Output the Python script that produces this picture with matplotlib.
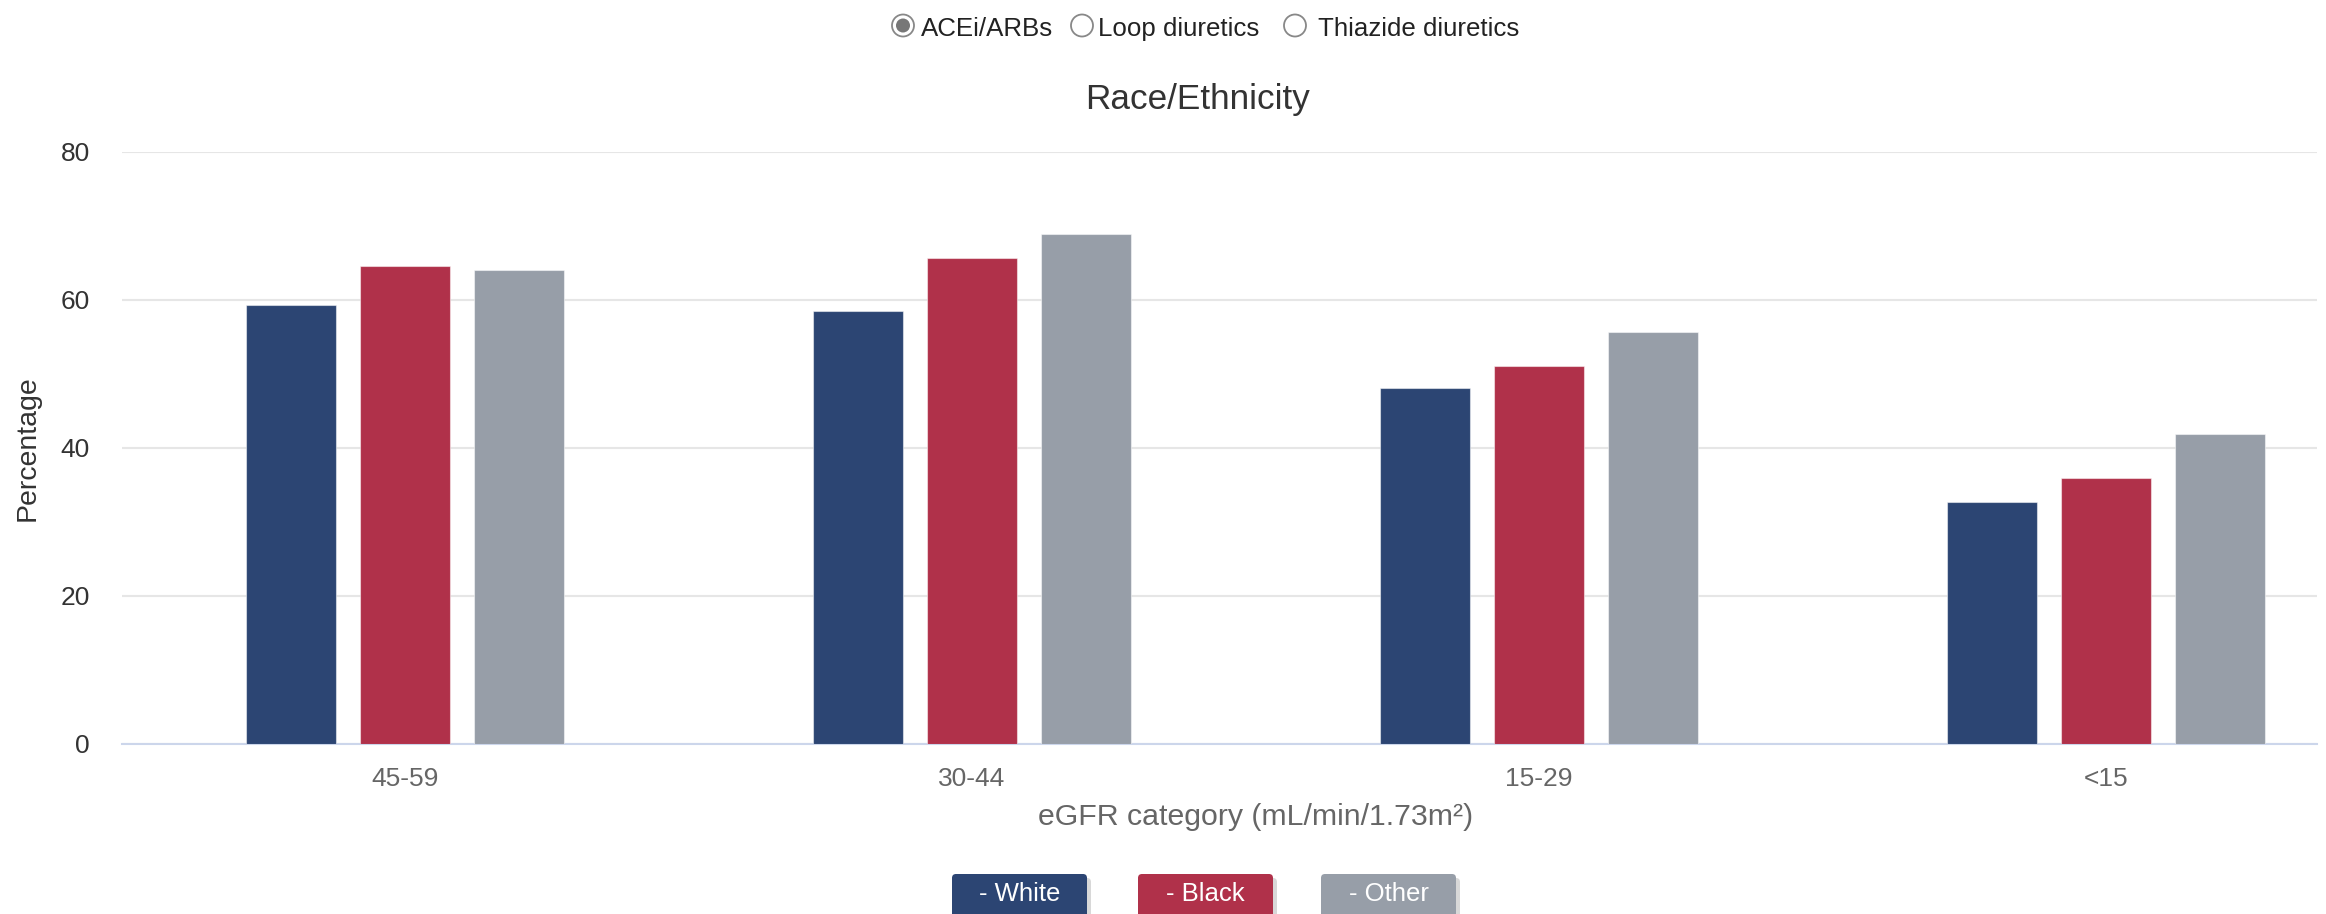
import matplotlib
matplotlib.use("Agg")
import matplotlib.pyplot as plt
from matplotlib.patches import Circle, FancyBboxPatch
from matplotlib import font_manager
import numpy as np

# ---- data ----
categories = ["45-59", "30-44", "15-29", "<15"]
series_names = ["White", "Black", "Other"]
white = [59.3, 58.5, 48.0, 32.6]
black = [64.5, 65.6, 51.0, 35.9]
other = [64.0, 68.9, 55.6, 41.8]
y_ticks = [0, 20, 40, 60, 80]
title = "Race/Ethnicity"
x_label = "eGFR category (mL/min/1.73m²)"
y_label = "Percentage"
radio_labels = ["ACEi/ARBs", "Loop diuretics", "Thiazide diuretics"]

colors = ["#2c4573", "#b0314a", "#979ea8"]

W, H = 2326, 914
installed = {f.name for f in font_manager.fontManager.ttflist}
base = "Liberation Sans" if "Liberation Sans" in installed else "DejaVu Sans"
narrow = "Liberation Sans Narrow" if "Liberation Sans Narrow" in installed else base
plt.rcParams["font.family"] = [base, "DejaVu Sans"]

fig = plt.figure(figsize=(W / 100, H / 100), dpi=100)
left, right, top, bottom = 122, 2317, 151.6, 743.7
ax = fig.add_axes([left / W, 1 - bottom / H, (right - left) / W, (bottom - top) / H])

x = np.arange(len(categories))
bw = 0.1588
step = 0.2011
for i, (vals, c) in enumerate(zip([white, black, other], colors)):
    ax.bar(x + (i - 1) * step, vals, width=bw, color=c, edgecolor=(1, 1, 1, 0.5),
           linewidth=0.8, zorder=3)

ax.set_xlim(-0.4992, 3.3727)
ax.set_ylim(0, 80)
ax.set_yticks(y_ticks)
ax.set_xticks(x)
ax.set_xticklabels(categories)
ax.yaxis.grid(True, color="#e6e6e6", linewidth=1.5, zorder=0)
ax.set_axisbelow(True)
for s in ["top", "right", "left"]:
    ax.spines[s].set_visible(False)
ax.spines["bottom"].set_color("#ccd6eb")
ax.spines["bottom"].set_linewidth(1.5)
ax.tick_params(axis="both", length=0)
ax.tick_params(axis="y", labelsize=19, labelcolor="#333333", pad=23)
ax.tick_params(axis="x", labelsize=19, labelcolor="#666666", pad=17)

# overlay in pixel coords
ov = fig.add_axes([0, 0, 1, 1], zorder=10)
ov.set_xlim(0, W)
ov.set_ylim(H, 0)
ov.axis("off")

ov.text(1197.5, 109, title, ha="center", va="baseline", fontsize=25.3, color="#333333")
ov.text(1255.5, 817, x_label, ha="center", va="center", fontsize=21.8, color="#666666")
ov.text(28, 448, y_label, ha="center", va="center", rotation=90, fontsize=20.5, color="#333333")

# radio buttons
circ_x = [903, 1082, 1295]
text_x = [920.7, 1098.5, 1318]
for j, (cx, tx, lab) in enumerate(zip(circ_x, text_x, radio_labels)):
    ov.add_patch(Circle((cx, 25.5), 11, facecolor="white", edgecolor="#888888", lw=1.3))
    if j == 0:
        ov.add_patch(Circle((cx, 25.5), 7, facecolor="#777777", edgecolor="none"))
    ov.text(tx, 36, lab, ha="left", va="baseline", fontsize=18.6, color="#222222",
            family=[base, "DejaVu Sans"])

# legend buttons
btn_x = [952, 1138, 1321]
btn_w = 135
for bx, name, c in zip(btn_x, series_names, colors):
    ov.add_patch(FancyBboxPatch((bx + 4, 878), btn_w, 44, boxstyle="round,pad=0,rounding_size=4",
                                facecolor="#c8c8c8", edgecolor="none", alpha=0.7))
    ov.add_patch(FancyBboxPatch((bx, 874), btn_w, 44, boxstyle="round,pad=0,rounding_size=4",
                                facecolor=c, edgecolor="none"))
    ov.text(bx + btn_w / 2, 894, "- " + name, ha="center", va="center", fontsize=18.5,
            color="white")

fig.savefig("out.png", dpi=100)
